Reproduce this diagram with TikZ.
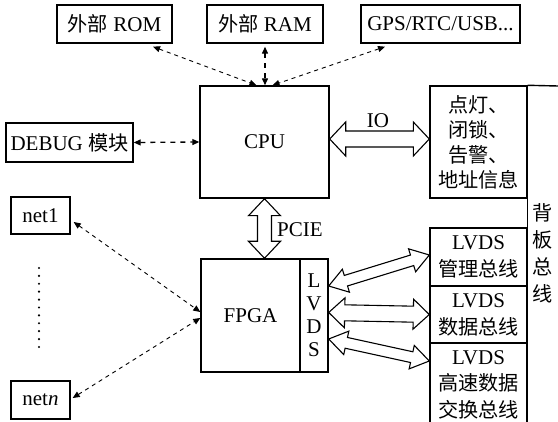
\documentclass[tikz,border=0pt]{standalone}
\usepackage{fontspec}
\setmainfont{Liberation Serif}
\newfontfamily\cjk[Scale=0.96]{Noto Sans CJK SC}
\usetikzlibrary{calc,arrows.meta}
\newcommand\zh[1]{{\cjk #1}}
% block double arrow: A, B, shaft half width, head half width, head length
\newcommand\blockarrow[5]{%
  \coordinate (ba1) at ($(#1)!#5!(#2)$);
  \coordinate (bb1) at ($(#2)!#5!(#1)$);
  \draw[blk] (#1) -- ($(ba1)!#4!90:(#2)$) -- ($(ba1)!#3!90:(#2)$)
    -- ($(bb1)!#3!-90:(#1)$) -- ($(bb1)!#4!-90:(#1)$) -- (#2)
    -- ($(bb1)!#4!90:(#1)$) -- ($(bb1)!#3!90:(#1)$)
    -- ($(ba1)!#3!-90:(#2)$) -- ($(ba1)!#4!-90:(#2)$) -- cycle;}
\begin{document}
\begin{tikzpicture}[x=1pt,y=-1pt,
  box/.style={draw,line width=1.4pt,inner sep=0pt,align=center,
    font=\fontsize{21}{26}\selectfont},
  blk/.style={draw,line width=1.1pt,fill=white,line join=miter},
  tipA/.style={{Triangle[length=7pt,width=6pt]}-{Triangle[length=7pt,width=6pt]}},
  thin dash/.style={tipA,line width=0.9pt,dash pattern=on 4pt off 4pt},
  thick dash/.style={tipA,line width=1.3pt,dash pattern=on 5pt off 5pt},
  lbl/.style={inner sep=0pt,font=\fontsize{21}{26}\selectfont},
]
\clip (0,0) rectangle (558,422);
\fill[white] (0,0) rectangle (558,422);

% top boxes
\node[box,minimum width=115pt,minimum height=38pt] (rom) at (114.5,24) {\zh{外部} ROM};
\node[box,minimum width=116pt,minimum height=38pt] (ram) at (265,24) {\zh{外部} RAM};
\node[box,minimum width=159pt,minimum height=38pt] (gps) at (440.5,24) {GPS/RTC/USB...};

% CPU and DEBUG
\node[box,minimum width=129pt,minimum height=112pt] (cpu) at (264.5,142) {CPU};
\node[box,minimum width=127pt,minimum height=39pt] (debug) at (69.5,142.5) {DEBUG \zh{模块}};

% IO box
\node[box,minimum width=97pt,minimum height=112pt,font=\fontsize{21}{25}\selectfont] (io) at (478.5,142)
  {\zh{点灯、}\\\zh{闭锁、}\\\zh{告警、}\\\zh{地址信息}};

% LVDS boxes
\node[box,minimum width=97pt,minimum height=58pt,font=\fontsize{21}{27}\selectfont] (mgmt) at (478.5,257)
  {LVDS\\\zh{管理总线}};
\node[box,minimum width=97pt,minimum height=57pt,font=\fontsize{21}{27}\selectfont] (data) at (478.5,314.5)
  {LVDS\\\zh{数据总线}};
\node[box,minimum width=97pt,minimum height=83pt,font=\fontsize{21}{26.5}\selectfont] (fast) at (478.5,384.5)
  {LVDS\\\zh{高速数据}\\\zh{交换总线}};

% backplane
\coordinate (bpr) at (558,86);
\draw[line width=1.4pt] (io.north east) -- (bpr);
\draw[line width=1.4pt] (io.south east) -- (mgmt.north east);
\node[lbl,align=center,font=\fontsize{21}{27}\selectfont] (bp) at (543,253) {\zh{背}\\\zh{板}\\\zh{总}\\\zh{线}};

% FPGA
\node[box,minimum width=99pt,minimum height=113pt] (fpga) at (250.5,315.5) {FPGA};
\node[box,minimum width=28pt,minimum height=113pt,font=\fontsize{21}{23}\selectfont] (lvds) at (314,315.5)
  {L\\V\\D\\S};

% net boxes
\node[box,minimum width=59pt,minimum height=37pt] (net1) at (40.5,215.5) {net1};
\node[box,minimum width=59pt,minimum height=38pt] (netn) at (40.5,400) {net\textit{n}};
\foreach \k in {0,...,10} \fill (39,268+7.9*\k) circle (1.2pt);

% dashed connectors
\draw[thin dash] ([xshift=38.5pt,yshift=-3pt]rom.south) -- ([xshift=-8pt]cpu.north);
\draw[thick dash] ([yshift=-3pt]ram.south) -- (ram.south |- cpu.north);
\draw[thin dash] ([xshift=-55.5pt,yshift=-3pt]gps.south) -- ([xshift=8pt]cpu.north);
\draw[thick dash] (debug.east) -- (cpu.west);
\draw[thin dash] ([xshift=3pt,yshift=-6.5pt]net1.east) -- ([yshift=3.5pt]fpga.west);
\draw[thin dash] ([xshift=2pt,yshift=2pt]netn.east) -- ([yshift=-2.5pt]fpga.west);

% block arrows
\coordinate (ioA) at ([yshift=3pt]cpu.east);
\coordinate (ioB) at ([yshift=3pt]io.west);
\blockarrow{ioA}{ioB}{8pt}{17pt}{16pt}
\node[lbl] (iolbl) at (378,121) {IO};

\coordinate (pa) at (cpu.south);
\coordinate (pb) at (cpu.south |- fpga.north);
\blockarrow{pa}{pb}{7pt}{16pt}{17pt}
\node[lbl,anchor=west] (pcie) at (277,230) {PCIE};

\coordinate (l1a) at ([yshift=29.5pt]lvds.east);
\coordinate (l1b) at ([yshift=2pt]mgmt.west);
\blockarrow{l1a}{l1b}{5.5pt}{12pt}{18pt}
\coordinate (l2a) at ([yshift=3pt]lvds.east);
\coordinate (l2b) at ([yshift=0pt]data.west);
\blockarrow{l2a}{l2b}{8pt}{15pt}{16pt}
\coordinate (l3a) at ([yshift=-23.5pt]lvds.east);
\coordinate (l3b) at ([yshift=23.5pt]fast.west);
\blockarrow{l3a}{l3b}{5.5pt}{12pt}{18pt}
\end{tikzpicture}
\end{document}
